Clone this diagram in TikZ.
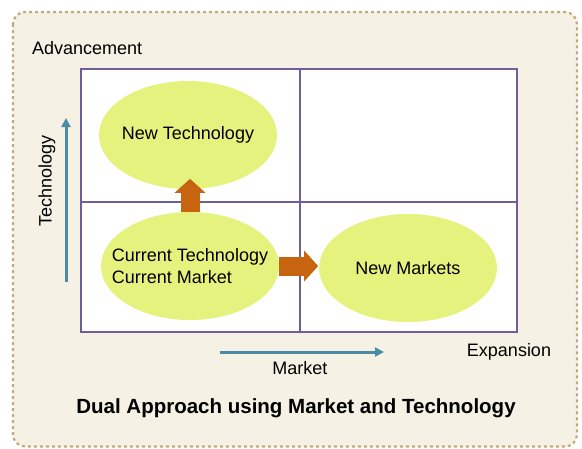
\documentclass[tikz,border=0pt]{standalone}
\usepackage{fontspec}
\setmainfont{Liberation Sans}
\usetikzlibrary{arrows.meta,shapes.geometric}
\definecolor{bgfill}{HTML}{F5F1E4}
\definecolor{bgdash}{HTML}{C2AA7A}
\definecolor{gridc}{HTML}{6F5E98}
\definecolor{ellc}{HTML}{E6F27E}
\definecolor{orangec}{HTML}{C6640F}
\definecolor{bluec}{HTML}{4A8BA6}
\begin{document}
\begin{tikzpicture}[x=1pt,y=-1pt,
  lbl/.style={font=\fontsize{18}{20}\selectfont, inner sep=0pt},
  ell/.style={ellipse, fill=ellc, draw=none, minimum width=178pt, minimum height=108pt, inner sep=0pt},
  elltext/.style={align=left, font=\fontsize{18}{22}\selectfont, inner sep=0pt},
  blockarrow/.style={-{Triangle[width=30pt,length=14pt]}, line width=19pt, draw=orangec},
  axisarrow/.style={-{Triangle[width=9pt,length=9pt]}, line width=3pt, draw=bluec},
  gridline/.style={draw=gridc, line width=2pt}]
\useasboundingbox (0,0) rectangle (582,448);
\draw[bgdash, fill=bgfill, line width=2.2pt, dash pattern=on 3pt off 3pt, rounded corners=12pt] (13,12) rectangle (577,446.5);
\draw[gridline, fill=white] (81,69) rectangle (517,332);
\draw[gridline] (300,69) -- (300,332);
\draw[gridline] (81,202) -- (517,202);
\node[ell] (nt) at (188,135) {};
\node[ell] (ct) at (190,266) {};
\node[ell] (nm) at (408,268) {};
\node[elltext] (ntt) at (nt.center) {New Technology};
\node[elltext] (ctt) at (ct.center) {Current Technology\\Current Market};
\node[elltext] (nmt) at (nm.center) {New Markets};
\draw[blockarrow] (ct.north) -- ++(0,-33) coordinate (ctup);
\draw[blockarrow] (ct.east) -- ++(39,0) coordinate (ctright);
\coordinate (tb) at (66,282);
\coordinate (tt) at (66,118);
\draw[axisarrow] (tb) -- (tt);
\coordinate (ml) at (220,352);
\coordinate (mr) at (384,352);
\draw[axisarrow] (ml) -- (mr);
\node[lbl, anchor=west] (adv) at (32,48) {Advancement};
\node[lbl, rotate=90] (tech) at (47,181) {Technology};
\node[lbl] (mkt) at (300,368) {Market};
\node[lbl] (exp) at (509,352) {Expansion};
\node[font=\bfseries\fontsize{20.5}{22}\selectfont, inner sep=0pt] (title) at (296,408) {Dual Approach using Market and Technology};
\end{tikzpicture}
\end{document}
